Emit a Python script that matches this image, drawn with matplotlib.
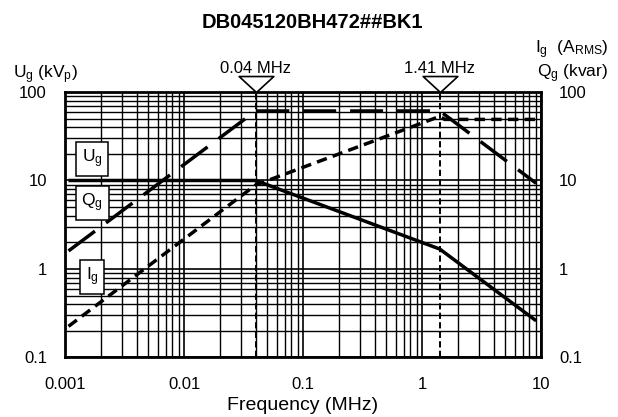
import matplotlib

matplotlib.use("Agg")
import matplotlib.pyplot as plt
from matplotlib.path import Path
from matplotlib.ticker import FixedLocator, FixedFormatter, NullFormatter

plt.rcParams["font.family"] = ["Liberation Sans", "DejaVu Sans"]
plt.rcParams["mathtext.fontset"] = "custom"
plt.rcParams["mathtext.rm"] = "Liberation Sans"
plt.rcParams["mathtext.it"] = "Liberation Sans:italic"

TITLE = "DB045120BH472##BK1"

# curves (frequency in MHz)
freq_ug = [0.00107, 0.04, 1.41, 9.1]
ug = [10, 10, 1.68, 0.26]

freq_qg = [0.00107, 0.04, 1.41, 9.1]
qg = [1.6, 61, 61, 9.3]

freq_ig = [0.00107, 0.04, 1.41, 1.55, 9.1]
ig = [0.225, 8.9, 53, 49, 49]

corner_freqs = [0.04, 1.41]
corner_labels = ["0.04 MHz", "1.41 MHz"]

x_ticks = [0.001, 0.01, 0.1, 1, 10]
x_tick_labels = ["0.001", "0.01", "0.1", "1", "10"]
y_ticks = [0.1, 1, 10, 100]
y_tick_labels = ["0.1", "1", "10", "100"]

fig = plt.figure(figsize=(6.18, 4.17), dpi=100)
ax = fig.add_axes([0.1052, 0.1427, 0.7702, 0.6367])
ax.set_xscale("log")
ax.set_yscale("log")
ax.set_xlim(0.001, 10)
ax.set_ylim(0.1, 100)

for axis, ticks, labels in [(ax.xaxis, x_ticks, x_tick_labels),
                            (ax.yaxis, y_ticks, y_tick_labels)]:
    axis.set_major_locator(FixedLocator(ticks))
    axis.set_major_formatter(FixedFormatter(labels))
    axis.set_minor_formatter(NullFormatter())

ax.grid(which="major", color="black", lw=1.2)
ax.grid(which="minor", color="black", lw=1.0)
ax.set_axisbelow(True)
ax.tick_params(which="both", length=0, labelsize=12)
ax.tick_params(axis="x", pad=14)
ax.tick_params(axis="y", pad=13, labelright=True)
for sp in ax.spines.values():
    sp.set_linewidth(2.0)

ax.plot(freq_ug, ug, color="black", lw=2.5, solid_capstyle="butt")
ax.plot(freq_qg, qg, color="black", lw=2.5, ls=(0, (9.5, 4)))
ax.plot(freq_ig, ig, color="black", lw=2.5, ls=(0, (3, 1.8)))

# corner frequency markers
tri = Path([(-1, 0.92), (1, 0.92), (0, 0), (-1, 0.92)],
           [Path.MOVETO, Path.LINETO, Path.LINETO, Path.CLOSEPOLY])
for f, lab in zip(corner_freqs, corner_labels):
    ax.axvline(f, color="black", lw=1.4, ls=(0, (3.2, 1.7)))
    ax.plot([f], [1], transform=ax.get_xaxis_transform(), marker=tri,
            ms=25, mfc="white", mec="black", mew=1.2, clip_on=False, zorder=5)
    ax.annotate(lab, xy=(f, 1), xycoords=ax.get_xaxis_transform(),
                xytext=(0, 13.5), textcoords="offset points",
                ha="center", va="baseline", fontsize=12)

# curve labels
box = dict(boxstyle="square,pad=0.32", fc="white", ec="black", lw=1.1)
for txt, yv in [(r"U$_\mathrm{g}$", 17.5), (r"Q$_\mathrm{g}$", 5.57),
                (r"I$_\mathrm{g}$", 0.81)]:
    ax.text(0.00169, yv, txt, fontsize=12.5, ha="center", va="center",
            bbox=box, zorder=6)

ax.set_xlabel("Frequency (MHz)", fontsize=14, labelpad=4)
fig.text(0.021, 0.813, r"U$_\mathrm{g}$ (kV$_\mathrm{p}$)", fontsize=12.5,
         ha="left", va="baseline")
fig.text(0.984, 0.873, r"I$_\mathrm{g}$  (A$_\mathrm{RMS}$)", fontsize=12.5,
         ha="right", va="baseline")
fig.text(0.984, 0.815, r"Q$_\mathrm{g}$ (kvar)", fontsize=12.5,
         ha="right", va="baseline")
fig.text(312 / 618, 0.933, TITLE, fontsize=14.5, fontweight="bold",
         ha="center", va="baseline")

fig.savefig("out.png", dpi=100)
